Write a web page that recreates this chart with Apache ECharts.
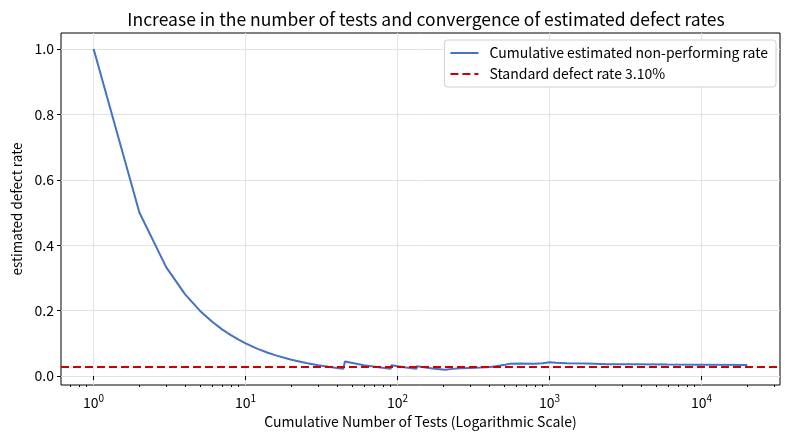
<!DOCTYPE html>
<html>
<head>
<meta charset="utf-8">
<script src="https://cdn.jsdelivr.net/npm/echarts@6/dist/echarts.min.js"></script>
<style>
  html, body { margin: 0; padding: 0; background: #fff; }
  #chart { width: 790px; height: 440px; }
</style>
</head>
<body>
<div id="chart"></div>
<script>
// cumulative test counts and the estimated defect rate read at each one
var testCounts = [1, 2, 3, 4, 5, 6, 7, 8, 9, 10, 12, 14, 16, 20, 25, 30, 35, 40, 44,
  45, 60, 75, 90, 91, 110, 133, 134, 170, 205, 206, 230, 231, 258, 259, 300, 301,
  350, 351, 407, 408, 440, 441, 474, 475, 510, 511, 551, 641, 785, 900, 1000, 1100,
  1300, 1763, 2390, 3580, 5940, 9840, 20000];
var estRates = [1.0, 0.5, 0.3333, 0.25, 0.2, 0.1667, 0.1429, 0.125, 0.1111, 0.1, 0.0833,
  0.0714, 0.0625, 0.05, 0.04, 0.0333, 0.0286, 0.025, 0.0227,
  0.0444, 0.0333, 0.0267, 0.0222, 0.033, 0.0273, 0.0226, 0.0299, 0.0235, 0.0195, 0.0243,
  0.022, 0.026, 0.024, 0.027, 0.025, 0.028, 0.026, 0.029, 0.028, 0.031, 0.030, 0.033,
  0.032, 0.035, 0.0345, 0.037, 0.038, 0.0385, 0.038, 0.0395, 0.042, 0.0405,
  0.0395, 0.0385, 0.0365, 0.036, 0.0352, 0.035, 0.0342];
var standardRate = 0.031;

var majorX = [1, 10, 100, 1000, 10000];
var minorX = [0.7, 0.8, 0.9, 2, 3, 4, 5, 6, 7, 8, 9, 20, 30, 40, 50, 60, 70, 80, 90,
  200, 300, 400, 500, 600, 700, 800, 900, 2000, 3000, 4000, 5000, 6000, 7000, 8000, 9000,
  20000, 30000];
var yTicks = [0, 0.2, 0.4, 0.6, 0.8, 1.0];

var FONT = '"Noto Sans CJK JP", "Noto Sans", sans-serif';

var lineData = [];
for (var i = 0; i < testCounts.length; i++) {
  lineData.push([testCounts[i], estRates[i]]);
}

var mychart = echarts.init(document.getElementById('chart'));
var options = {
  backgroundColor: '#fff',
  animation: false,
  textStyle: { fontFamily: FONT },
  title: {
    text: 'Increase in the number of tests and convergence of estimated defect rates',
    left: 421, top: 6, textAlign: 'center',
    textStyle: { fontFamily: FONT, fontSize: 17.5, fontWeight: 'normal', color: '#000' }
  },
  legend: {
    right: 14, top: 40,
    orient: 'vertical',
    itemWidth: 28, itemHeight: 10, itemGap: 7,
    padding: [6, 8, 6, 5],
    backgroundColor: '#fff',
    borderColor: '#d0d0d0', borderWidth: 1, borderRadius: 3,
    itemStyle: { opacity: 0 },
    textStyle: { fontFamily: FONT, fontSize: 14, color: '#000', padding: [0, 0, 0, 6] },
    data: ['Cumulative estimated non-performing rate', 'Standard defect rate 3.10%']
  },
  grid: {
    left: 61, right: 10, top: 33, bottom: 55,
    show: true, borderColor: '#000', borderWidth: 1, backgroundColor: '#fff'
  },
  xAxis: [{
    type: 'log', logBase: 10,
    min: 0.61, max: 32800,
    name: 'Cumulative Number of Tests (Logarithmic Scale)',
    nameLocation: 'middle', nameGap: 28,
    nameTextStyle: { fontFamily: FONT, fontSize: 14, color: '#000' },
    axisLine: { show: false },
    axisTick: { show: true, length: 4, lineStyle: { color: '#000' }, customValues: majorX },
    axisLabel: {
      customValues: majorX, margin: 8, color: '#000',
      formatter: function(v) {
        return '{b|10}{e|' + Math.round(Math.log10(v)) + '}';
      },
      rich: {
        b: { fontFamily: FONT, fontSize: 14, color: '#000' },
        e: { fontFamily: FONT, fontSize: 10, color: '#000', padding: [0, 0, 9, 0] }
      }
    },
    splitLine: { show: true, lineStyle: { color: '#e3e3e3', width: 1 } }
  }, {
    type: 'log', logBase: 10,
    min: 0.61, max: 32800,
    position: 'bottom',
    axisLine: { show: false },
    axisTick: { show: true, length: 2, lineStyle: { color: '#000' }, customValues: minorX },
    axisLabel: { show: false },
    splitLine: { show: false }
  }],
  yAxis: {
    type: 'value',
    min: -0.0273, max: 1.049,
    name: 'estimated defect rate',
    nameLocation: 'middle', nameGap: 37,
    nameTextStyle: { fontFamily: FONT, fontSize: 13.5, color: '#000' },
    axisLine: { show: false },
    axisTick: { show: true, length: 4, lineStyle: { color: '#000' }, customValues: yTicks },
    axisLabel: {
      customValues: yTicks, margin: 7, color: '#000', fontSize: 14, fontFamily: FONT,
      formatter: function(v) { return v.toFixed(1); }
    },
    splitLine: { show: true, lineStyle: { color: '#e3e3e3', width: 1 } }
  },
  series: [{
    name: 'Cumulative estimated non-performing rate',
    type: 'line',
    data: lineData,
    showSymbol: false,
    symbol: 'none',
    itemStyle: { color: '#4472c4' },
    lineStyle: { color: '#4472c4', width: 2 },
    z: 3
  }, {
    name: 'Standard defect rate 3.10%',
    type: 'line',
    data: [],
    symbol: 'none',
    itemStyle: { color: '#cc0000' },
    lineStyle: { color: '#cc0000', width: 2, type: [8, 4] },
    markLine: {
      silent: true,
      symbol: ['none', 'none'],
      label: { show: false },
      lineStyle: { color: '#cc0000', width: 2, type: [8, 4] },
      data: [{ yAxis: standardRate }]
    },
    z: 4
  }]
};
mychart.setOption(options);
</script>
</body>
</html>
